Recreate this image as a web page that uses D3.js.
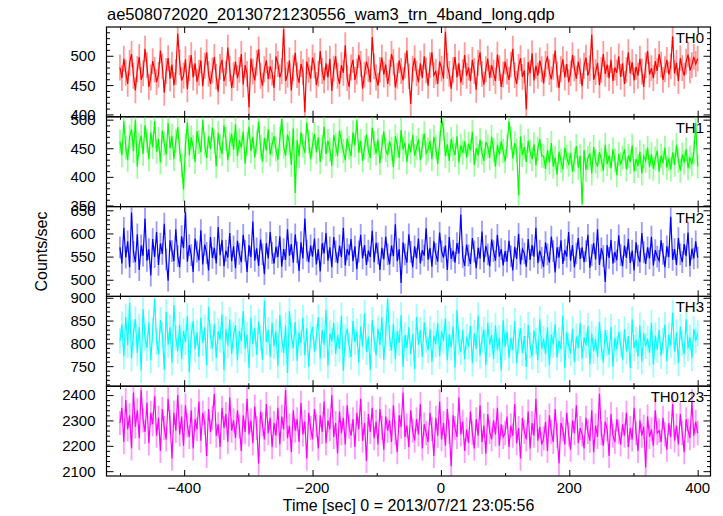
<!DOCTYPE html>
<html><head><meta charset="utf-8">
<script src="https://cdn.jsdelivr.net/npm/d3@7"></script>
<style>
body{margin:0;background:#fff;}
text{font-family:"Liberation Sans",Arial,Helvetica,sans-serif;fill:#000;}
</style></head>
<body><svg id="c" width="723" height="516"></svg>
<script>
const title = "ae508072020_20130721230556_wam3_trn_4band_long.qdp";
const xLabel = "Time [sec] 0 = 2013/07/21 23:05:56";
const yLabel = "Counts/sec";
const panelNames = ["TH0","TH1","TH2","TH3","TH0123"];
const colors = ["#ff0000","#00ff00","#0000ff","#00ffff","#ff00ff"];
const lightColors = ["#ff9a9a","#9aff9a","#9a9aff","#9affff","#ff9aff"];
const yDomains = [[396,549],[348,505],[464,658],[706,903],[2081,2435]];
const yTicks = [[400,450,500],[350,400,450,500],[500,550,600,650],[750,800,850,900],[2100,2200,2300,2400]];
const yMinorStep = [10,10,10,10,20];
const xDomain = [-521,420];
const xTicks = [-400,-200,0,200,400];
const xMinor = [-500,-300,-100,100,300];
const binStart = -500, binSize = 3;
const errors = [22,21,23.5,28.5,47.5];

const th0 = [480,462,495,471,452,488,503,466,441,477,498,459,470,512,484,447,463,491,476,455,
468,509,482,437,474,496,461,485,450,472,538,489,458,466,494,443,479,501,463,487,
456,471,492,448,483,506,469,452,475,498,464,439,481,493,457,470,514,478,445,467,
490,462,476,503,451,484,469,412,495,473,458,488,511,466,449,477,492,460,482,471,
445,499,486,463,474,545,457,468,492,441,479,505,467,454,486,472,404,490,476,461,
497,483,450,469,508,474,458,487,463,495,440,478,499,466,452,484,471,518,462,447,
480,493,459,473,501,486,444,468,490,477,455,532,482,463,449,476,497,468,485,452,
471,503,489,446,466,492,474,458,483,509,465,418,478,496,470,455,487,462,499,475,
449,484,506,467,473,452,490,478,461,541,483,469,444,476,498,463,487,454,472,501,
466,480,457,493,474,442,488,506,469,451,477,495,462,484,471,457,502,479,447,468,
490,473,459,485,512,467,452,481,496,464,475,409,489,470,504,458,483,466,492,477,
453,486,499,472,460,481,509,468,445,477,494,463,486,455,470,501,478,461,490,474,
448,483,497,466,479,536,459,472,488,450,476,503,469,485,462,493,457,480,471,499,
464,487,452,476,506,470,489,458,481,466,495,473,447,484,508,468,479,462,491,474,
503,485,459,477,493,468,482,533,470,488,457,496,479,466,490,502,475,484,498,486,
495];
const th1 = [462,438,497,451,429,470,483,445,499,418,456,472,440,490,463,431,478,452,497,444,
466,425,481,458,439,494,450,472,431,463,487,447,420,378,455,495,438,469,452,426,
480,461,443,499,457,433,471,449,486,462,418,477,453,440,490,466,429,458,475,447,
492,436,464,451,479,423,458,488,445,470,434,461,497,452,427,468,446,483,439,457,
471,448,430,466,501,453,437,474,459,421,485,372,464,436,478,455,442,495,462,431,
457,475,443,469,426,452,488,440,463,448,419,473,456,437,481,462,445,429,467,451,
436,478,455,499,442,463,428,451,474,446,433,486,459,441,465,424,453,479,447,438,
462,449,417,471,455,433,482,448,460,426,458,443,473,437,451,465,429,454,476,441,
448,463,431,470,452,422,459,499,484,436,457,428,466,449,438,471,425,455,442,462,
434,458,446,479,421,450,437,465,442,428,461,453,433,470,447,418,456,439,462,445,
427,454,497,468,432,459,446,368,471,438,452,426,463,444,431,457,420,449,466,437,
436,414,447,425,459,418,433,404,444,428,413,451,435,421,442,409,430,454,416,437,
352,447,412,433,441,406,452,427,418,443,430,411,456,422,437,415,448,429,403,440,
422,434,448,413,437,426,455,410,431,419,444,406,436,428,451,417,440,414,432,446,
409,437,424,451,416,432,413,443,421,456,428,411,439,425,448,415,434,422,443,494,
418];
const th2 = [570,535,612,548,583,527,645,560,538,598,521,574,552,632,541,566,509,588,549,603,
532,578,556,621,544,498,585,562,540,609,551,527,594,568,646,539,575,553,517,589,
561,542,607,533,576,558,520,592,547,569,535,614,553,586,529,563,548,601,540,572,
525,584,556,538,597,563,517,575,549,626,541,568,530,587,555,512,579,546,603,558,
535,571,549,594,528,566,543,609,552,577,537,598,559,519,581,546,632,563,538,574,
550,589,533,566,518,579,557,601,541,570,527,592,561,536,574,549,612,531,566,553,
588,540,572,523,561,597,546,575,532,563,549,606,538,580,557,521,569,544,593,555,
533,574,551,620,540,566,493,581,555,537,598,560,527,572,546,589,535,564,552,611,
543,569,528,583,556,539,602,561,548,574,521,592,545,563,537,579,557,641,549,530,
576,552,534,590,561,525,569,546,604,538,573,555,529,587,562,541,597,550,566,531,
562,539,584,551,520,571,545,599,533,566,557,528,588,543,575,550,612,536,563,547,
528,581,555,537,593,562,516,570,548,585,534,564,550,603,541,575,527,557,590,545,
570,538,562,597,526,553,579,544,609,532,568,551,495,575,547,586,535,560,542,596,
553,529,574,547,588,536,563,520,581,552,538,601,559,534,570,546,593,531,564,550,
541,585,556,527,572,549,636,543,566,532,590,555,538,577,551,602,530,567,546,583,
548];
const th3 = [805,842,771,858,796,889,767,824,853,779,836,741,875,812,790,846,763,829,897,804,
776,851,818,742,869,797,835,758,884,812,783,841,766,827,803,860,736,818,849,787,
824,770,856,801,835,752,879,815,789,843,768,826,808,864,741,831,795,852,777,818,
840,763,827,805,871,787,819,746,856,798,833,775,848,811,764,894,803,829,770,845,
794,826,751,862,808,779,839,735,871,816,790,847,762,824,801,856,774,833,749,818,
836,782,814,857,767,829,796,873,751,822,804,845,777,819,788,861,740,813,832,795,
770,849,803,826,758,837,793,866,781,815,742,851,809,774,832,796,857,763,820,898,
812,784,843,766,827,801,862,748,818,790,835,776,821,743,858,797,829,770,846,808,
785,831,759,817,798,844,772,826,806,855,763,820,791,837,747,873,804,781,829,765,
814,793,838,756,822,788,861,773,809,830,752,845,797,818,766,839,785,812,741,851,
792,826,768,812,785,849,757,804,833,779,816,748,840,796,771,828,805,763,853,788,
810,776,835,752,819,797,842,769,806,787,861,746,824,795,778,832,759,815,790,844,
767,813,796,838,754,821,783,809,770,847,792,758,829,801,775,836,749,812,787,825,
798,764,831,782,816,746,853,790,808,771,839,760,822,794,810,779,845,753,817,786,
829,773,805,841,761,818,795,867,782,824,757,836,800,776,853,789,813,768,831,806,
822];
const th0123 = [2290,2350,2215,2380,2265,2320,2190,2410,2275,2340,2230,2420,2300,2255,2370,2210,2330,2285,2395,2240,
2310,2180,2345,2270,2225,2385,2295,2150,2330,2260,2400,2245,2315,2200,2360,2280,2235,2340,2190,2305,
2265,2375,2220,2330,2290,2160,2345,2255,2310,2405,2240,2285,2195,2350,2270,2325,2215,2390,2260,2300,
2230,2340,2275,2180,2320,2255,2385,2245,2300,2210,2355,2270,2130,2335,2285,2225,2365,2250,2310,2195,
2290,2240,2350,2205,2315,2265,2420,2230,2280,2175,2340,2260,2305,2215,2370,2245,2295,2150,2330,2270,
2225,2345,2280,2190,2320,2255,2375,2210,2300,2265,2400,2235,2290,2170,2335,2250,2310,2205,2360,2275,
2240,2305,2195,2330,2265,2385,2220,2290,2140,2325,2255,2350,2230,2295,2205,2345,2270,2185,2315,2260,
2300,2215,2360,2250,2175,2320,2275,2410,2235,2280,2195,2340,2260,2220,2305,2245,2365,2190,2285,2250,
2215,2330,2265,2160,2310,2240,2375,2225,2290,2200,2345,2255,2120,2320,2270,2235,2390,2245,2295,2180,
2265,2210,2335,2250,2190,2305,2240,2360,2215,2280,2170,2325,2255,2225,2300,2245,2350,2200,2285,2235,
2250,2315,2195,2280,2240,2365,2210,2270,2150,2310,2255,2225,2335,2190,2290,2240,2385,2220,2275,2205,
2230,2295,2180,2320,2255,2215,2345,2240,2130,2290,2265,2205,2330,2245,2185,2300,2250,2360,2210,2270,
2245,2190,2310,2255,2220,2340,2175,2280,2235,2405,2250,2200,2295,2265,2160,2325,2240,2215,2305,2255,
2205,2285,2240,2330,2195,2270,2225,2350,2250,2180,2300,2240,2275,2115,2315,2235,2265,2200,2340,2250,
2260,2215,2310,2245,2185,2290,2235,2365,2220,2280,2205,2325,2250,2175,2305,2260,2230,2375,2240,2295,
2250];
const series = [th0, th1, th2, th3, th0123];

const svg = d3.select("#c");
const L = 106.5, R = 710.5, T = 27, B = 476;
const ph = (B - T) / 5;
const x = d3.scaleLinear().domain(xDomain).range([L, R]);

svg.append("text").attr("x", 107).attr("y", 20).style("font-size", "16.5px").text(title);

series.forEach((vals, p) => {
  const top = T + p * ph, bot = top + ph;
  const y = d3.scaleLinear().domain(yDomains[p]).range([bot, top]);
  const g = svg.append("g");
  const cid = "clip" + p;
  svg.append("clipPath").attr("id", cid).append("rect")
    .attr("x", L).attr("y", top).attr("width", R - L).attr("height", ph);
  const data = vals.map((v, i) => ({t: binStart + i * binSize, v}));
  const dg = g.append("g").attr("clip-path", `url(#${cid})`);
  dg.selectAll("line.err").data(data).enter().append("line")
    .attr("x1", d => x(d.t)).attr("x2", d => x(d.t))
    .attr("y1", d => y(d.v - errors[p])).attr("y2", d => y(d.v + errors[p]))
    .attr("stroke", lightColors[p]).attr("stroke-width", 1.8);
  dg.append("path").datum(data)
    .attr("d", d3.line().x(d => x(d.t)).y(d => y(d.v)))
    .attr("fill", "none").attr("stroke", colors[p]).attr("stroke-width", 1.2);

  const minor = d3.range(Math.ceil(yDomains[p][0] / yMinorStep[p]) * yMinorStep[p], yDomains[p][1], yMinorStep[p])
    .filter(v => !yTicks[p].includes(v));
  const axL = d3.axisRight(y).tickValues(yTicks[p]).tickSize(7).tickFormat("");
  const axLm = d3.axisRight(y).tickValues(minor).tickSize(3.5).tickFormat("");
  const axR = d3.axisLeft(y).tickValues(yTicks[p]).tickSize(7).tickFormat("");
  const axRm = d3.axisLeft(y).tickValues(minor).tickSize(3.5).tickFormat("");
  [[axL, L], [axLm, L], [axR, R], [axRm, R]].forEach(([a, xx]) => {
    const ag = g.append("g").attr("transform", `translate(${xx},0)`).call(a);
    ag.select(".domain").remove();
    ag.selectAll("line").attr("stroke", "#000");
  });
  const axT = d3.axisBottom(x).tickValues(xTicks).tickSize(6).tickFormat("");
  const axTm = d3.axisBottom(x).tickValues(xMinor).tickSize(3).tickFormat("");
  const axB = d3.axisTop(x).tickValues(xTicks).tickSize(6).tickFormat("");
  const axBm = d3.axisTop(x).tickValues(xMinor).tickSize(3).tickFormat("");
  [[axT, top], [axTm, top], [axB, bot], [axBm, bot]].forEach(([a, yy]) => {
    const ag = g.append("g").attr("transform", `translate(0,${yy})`).call(a);
    ag.select(".domain").remove();
    ag.selectAll("line").attr("stroke", "#000");
  });
  g.selectAll("text.yl").data(yTicks[p]).enter().append("text")
    .attr("x", 95.5).attr("y", d => y(d)).attr("dy", "0.36em")
    .attr("text-anchor", "end").style("font-size", "15px").text(d => d);
  g.append("rect").attr("x", L).attr("y", top).attr("width", R - L).attr("height", ph)
    .attr("fill", "none").attr("stroke", "#000").attr("stroke-width", 1.2);
  g.append("text").attr("x", 704).attr("y", top + 16).attr("text-anchor", "end")
    .style("font-size", "15px").text(panelNames[p]);
});

svg.selectAll("text.xl").data(xTicks).enter().append("text")
  .attr("x", d => x(d)).attr("y", 493).attr("text-anchor", "middle")
  .style("font-size", "15px").text(d => d3.format("")(d).replace("-", "\u2212"));
svg.append("text").attr("x", (L + R) / 2).attr("y", 511).attr("text-anchor", "middle")
  .style("font-size", "16px").text(xLabel);
svg.append("text").attr("transform", `translate(47,${(T + B) / 2}) rotate(-90)`)
  .attr("text-anchor", "middle").style("font-size", "16px").text(yLabel);
</script></body></html>
